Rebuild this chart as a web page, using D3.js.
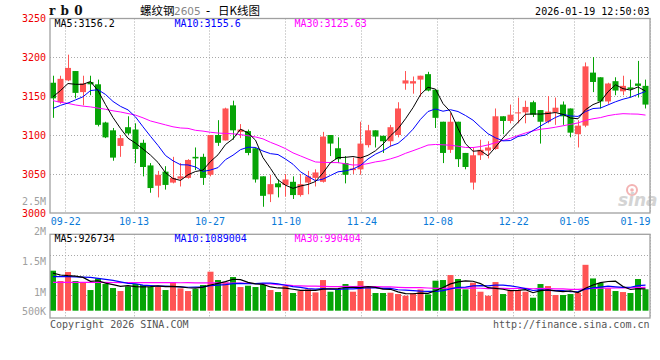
<!DOCTYPE html>
<html><head><meta charset="utf-8">
<script src="https://cdn.jsdelivr.net/npm/d3@7"></script>
<style>
html,body{margin:0;padding:0;background:#fff;}
svg{display:block;}
text{font-family:"DejaVu Sans Mono",monospace;font-size:10px;}
</style></head><body>
<svg id="c" width="660" height="360"></svg>
<script>
// ---------------- data ----------------
const dates = ["09-18","09-19","09-22","09-23","09-24","09-25","09-26","09-29","09-30","10-09",
"10-10","10-13","10-14","10-15","10-16","10-17","10-20","10-21","10-22","10-23",
"10-24","10-27","10-28","10-29","10-30","10-31","11-03","11-04","11-05","11-06",
"11-07","11-10","11-11","11-12","11-13","11-14","11-17","11-18","11-19","11-20",
"11-21","11-24","11-25","11-26","11-27","11-28","12-01","12-02","12-03","12-04",
"12-05","12-08","12-09","12-10","12-11","12-12","12-15","12-16","12-17","12-18",
"12-19","12-22","12-23","12-24","12-25","12-26","12-29","12-30","12-31","01-05",
"01-06","01-07","01-08","01-09","01-12","01-13","01-14","01-15","01-16","01-19"];
const open  = [3167,3142,3170,3182,3155,3168,3165,3116,3106,3086,
3110,3107,3090,3061,3035,3053,3039,3044,3045,3072,
3072,3049,3100,3093,3138,3104,3105,3083,3047,3024,
3038,3036,3040,3023,3039,3045,3040,3100,3083,3064,
3055,3056,3087,3106,3099,3092,3100,3166,3166,3171,
3178,3158,3117,3081,3117,3077,3039,3074,3080,3082,
3124,3118,3128,3129,3142,3132,3117,3129,3139,3134,
3101,3112,3180,3174,3143,3169,3156,3161,3166,3163];
const high  = [3176,3176,3203,3182,3176,3176,3171,3117,3109,3100,
3124,3115,3094,3064,3054,3060,3072,3064,3069,3084,
3076,3100,3119,3135,3144,3114,3107,3084,3047,3049,
3043,3050,3047,3050,3054,3056,3104,3100,3097,3073,
3071,3117,3113,3106,3099,3113,3142,3182,3175,3176,
3181,3158,3117,3128,3117,3077,3084,3094,3092,3134,
3124,3139,3148,3144,3144,3132,3150,3148,3143,3134,
3119,3193,3200,3174,3167,3174,3176,3171,3195,3171];
const low   = [3122,3140,3169,3147,3138,3151,3111,3096,3067,3072,
3100,3064,3047,3026,3020,3030,3038,3034,3044,3055,
3036,3047,3086,3093,3094,3096,3074,3039,3008,3014,
3020,3021,3018,3021,3024,3034,3039,3073,3064,3038,
3050,3049,3084,3084,3077,3085,3097,3158,3153,3149,
3156,3109,3064,3077,3059,3056,3030,3068,3070,3081,
3101,3115,3115,3115,3123,3089,3115,3113,3113,3097,
3084,3110,3155,3134,3140,3151,3151,3148,3148,3134];
const close = [3147,3172,3186,3154,3166,3165,3113,3097,3071,3096,
3102,3082,3059,3032,3049,3036,3045,3047,3068,3070,
3045,3100,3090,3134,3106,3107,3077,3043,3022,3037,
3033,3043,3023,3037,3047,3052,3098,3089,3069,3049,
3057,3089,3106,3098,3092,3110,3134,3170,3169,3176,
3157,3122,3077,3117,3069,3059,3074,3081,3084,3124,
3118,3126,3129,3136,3126,3117,3130,3135,3124,3103,
3112,3188,3168,3143,3166,3157,3163,3159,3163,3139];
const volume = [1700,1261,1643,1261,1204,878,1374,1133,963,836,
1034,1133,1091,1006,1006,878,1204,949,836,921,
1091,1657,1303,1204,1431,1006,1062,1006,1091,878,
793,1048,751,836,907,779,1303,807,907,1133,
807,1261,1020,751,751,765,708,637,737,907,
694,1275,1303,1516,1346,907,1190,807,637,1218,
708,878,878,807,552,1133,1048,666,666,708,
765,1950,1370,1176,949,836,793,751,1346,910].map(v => v * 1000);

// moving-average values before enough bars are on screen
const ma5Head  = [3149,3157,3166,3165];
const ma10Head = [3134,3138,3141,3145,3149,3157,3158,3152,3143];
const ma30Head = [3144,3142,3140.5,3138.5,3137,3136,3134.5,3133,3131,3129.5,
3127.5,3125.5,3122,3118,3115.5,3113,3110.5,3109,3108.5,3106,
3105,3103.5,3102.5,3102,3101.5,3100.5,3099,3097.5,3095];
const vma5Head  = [1600000,1516000,1487000,1473000];
const vma10Head = [1445000,1445000,1445000,1440000,1430000,1416000,1374000,1331000,1289000];
const vma30Head = [1205,1206,1204,1205,1203,1200,1202,1200,1198,1197,
1199,1196,1195,1194,1196,1193,1190,1188,1189,1186,
1183,1185,1180,1178,1175,1170,1163,1155,1145].map(v => v * 1000);

const priceTicks = [3000,3050,3100,3150,3200,3250];
const priceGrid  = [3050,3100,3150,3200];
const dateTicks  = ["09-22","10-13","10-27","11-10","11-24","12-08","12-22","01-05","01-19"];
const volTicks      = [500000,1000000,1500000,2000000,2500000];
const volTickLabels = ["500K","1M","1.5M","2M","2.5M"];
const maNames   = ["MA5","MA10","MA30"];
const priceLegendValues = ["3156.2","3155.6","3125.63"];
const volLegendValues   = ["926734","1089004","990404"];

// ---------------- drawing ----------------
const RED = "#ff5454", GREEN = "#06a406", GRID = "#a8a8a8", FRAME = "#a0a0a0";
const maColors = ["#000000", "#0000ff", "#ff00ff"];
const L = 50, R = 650, T = 18.5, B = 213, VT = 234.3, VB = 318;

const svg = d3.select("#c");
const xb = d3.scaleBand().domain(dates).range([L, R]).paddingInner(0.2).paddingOuter(0.1).align(0);
const xp = d3.scalePoint().domain(dates).range([L, R]);
const y  = d3.scaleLinear().domain([3000, 3250]).range([B, 18]);
const yv = d3.scaleLinear().domain([0, 1000000]).range([310.7, 310.7 - 23.53]);
const yLab = d3.scaleLinear().domain([500000, 1000000, 2500000]).range([311.1, 291.8, 201.1]);
const vGrid = d3.scaleLinear().domain([0, 4]).range([235.5, 314.8]);
const cx = d => xb(d) + xb.bandwidth() / 2;

function ma(arr, n, head) {
  return arr.map((v, i) => i < n - 1 ? head[i] : d3.mean(arr.slice(i - n + 1, i + 1)));
}
const pMA = [ma(close, 5, ma5Head), ma(close, 10, ma10Head), ma(close, 30, ma30Head)];
const vMA = [ma(volume, 5, vma5Head), ma(volume, 10, vma10Head), ma(volume, 30, vma30Head)];

// grids
const g = svg.append("g").attr("stroke", GRID).attr("stroke-dasharray", "1,2").attr("stroke-width", 1);
g.selectAll(".hg").data(priceGrid).join("line").attr("class", "hg")
  .attr("x1", L).attr("x2", R).attr("y1", d => Math.round(y(d)) + 0.5).attr("y2", d => Math.round(y(d)) + 0.5);
g.selectAll(".vgh").data([1, 2, 3]).join("line").attr("class", "vgh")
  .attr("x1", L).attr("x2", R).attr("y1", d => Math.round(vGrid(d)) + 0.5).attr("y2", d => Math.round(vGrid(d)) + 0.5);
g.selectAll(".dg").data(dateTicks).join("line").attr("class", "dg")
  .attr("x1", d => Math.round(xp(d)) + 0.5).attr("x2", d => Math.round(xp(d)) + 0.5).attr("y1", T).attr("y2", B);
g.selectAll(".dg2").data(dateTicks).join("line").attr("class", "dg2")
  .attr("x1", d => Math.round(xp(d)) + 0.5).attr("x2", d => Math.round(xp(d)) + 0.5).attr("y1", VT).attr("y2", VB);

// candles
const idx = d3.range(dates.length);
const col = i => close[i] >= open[i] ? RED : GREEN;
const cg = svg.append("g");
cg.selectAll(".wick").data(idx).join("line").attr("class", "wick")
  .attr("x1", i => Math.floor(cx(dates[i])) + 0.5).attr("x2", i => Math.floor(cx(dates[i])) + 0.5)
  .attr("y1", i => y(high[i])).attr("y2", i => y(low[i]))
  .attr("stroke", col).attr("stroke-width", 1);
cg.selectAll(".body").data(idx).join("rect").attr("class", "body")
  .attr("x", i => xb(dates[i])).attr("width", xb.bandwidth())
  .attr("y", i => y(Math.max(open[i], close[i])))
  .attr("height", i => Math.max(1, Math.abs(y(open[i]) - y(close[i]))))
  .attr("fill", col);

// volume bars
svg.append("g").selectAll("rect").data(idx).join("rect")
  .attr("x", i => xb(dates[i])).attr("width", xb.bandwidth())
  .attr("y", i => yv(volume[i])).attr("height", i => yv(0) - yv(volume[i]))
  .attr("fill", col);

// MA lines
const lineP = d3.line().x((v, i) => cx(dates[i])).y(v => y(v));
const lineV = d3.line().x((v, i) => cx(dates[i])).y(v => yv(v));
[2, 1, 0].forEach(k => {
  svg.append("path").attr("d", lineP(pMA[k])).attr("fill", "none").attr("stroke", maColors[k]).attr("stroke-width", 1);
  svg.append("path").attr("d", lineV(vMA[k])).attr("fill", "none").attr("stroke", maColors[k]).attr("stroke-width", 1.2);
});

// watermark
const wm = svg.append("g");
wm.append("circle").attr("cx", 632).attr("cy", 190).attr("r", 5).attr("fill", "none").attr("stroke", "#f3b3b3").attr("stroke-width", 2);
wm.append("circle").attr("cx", 632).attr("cy", 190).attr("r", 1.8).attr("fill", "#f3b3b3");
wm.append("text").attr("x", 618).attr("y", 206).text("sina")
  .style("font-family", "DejaVu Sans").style("font-size", "17px").style("font-weight", "bold").style("font-style", "italic")
  .attr("fill", "#d4d4d4");

// frames
svg.append("rect").attr("x", L).attr("y", T).attr("width", R - L).attr("height", B - T)
  .attr("fill", "none").attr("stroke", FRAME).attr("stroke-width", 1.3);
svg.append("rect").attr("x", L).attr("y", VT).attr("width", R - L).attr("height", VB - VT)
  .attr("fill", "none").attr("stroke", FRAME).attr("stroke-width", 1.3);

// axes
const volAx = svg.append("g").attr("transform", `translate(${L},0)`)
  .call(d3.axisLeft(yLab).tickValues(volTicks).tickSize(0).tickPadding(4)
    .tickFormat((d, i) => volTickLabels[i]));
volAx.select(".domain").remove();
volAx.selectAll("text").attr("fill", "#a0a0a0").style("font-family", "DejaVu Sans Mono").style("font-size", "10px");

const pAx = svg.append("g").attr("transform", `translate(${L},0)`)
  .call(d3.axisLeft(y).tickValues(priceTicks).tickSize(0).tickPadding(4).tickFormat(d3.format("d")));
pAx.select(".domain").remove();
pAx.selectAll("text").attr("fill", "#ee0000").style("font-family", "DejaVu Sans Mono").style("font-size", "10px");

const dAx = svg.append("g").attr("transform", `translate(0,${B})`)
  .call(d3.axisBottom(xp).tickValues(dateTicks).tickSize(0).tickPadding(5));
dAx.select(".domain").remove();
dAx.selectAll("text").attr("fill", "#0a7ad8").style("font-family", "DejaVu Sans Mono").style("font-size", "10px")
  .attr("text-anchor", (d, i) => i === dateTicks.length - 1 ? "end" : "middle");

// legends
maNames.forEach((n, k) => {
  svg.append("text").attr("x", L + 4.5 + k * 120).attr("y", 27.3).attr("fill", maColors[k])
    .text(n + ":" + priceLegendValues[k]);
  svg.append("text").attr("x", L + 4.5 + k * 120).attr("y", 242).attr("fill", maColors[k])
    .text(n + ":" + volLegendValues[k]);
});

// header
svg.append("text").attr("x", 49).attr("y", 15).text("rb0")
  .style("font-family", "DejaVu Serif").style("font-weight", "bold").style("font-size", "12px")
  .style("letter-spacing", "5.3px").attr("fill", "#111");
const title = svg.append("text").attr("y", 14.5).style("font-size", "11.5px");
title.append("tspan").attr("x", 140).text("螺纹钢").style("font-family", "Noto Sans CJK SC").attr("fill", "#000");
title.append("tspan").attr("x", 174).text("2605").style("font-family", "DejaVu Sans").style("font-size", "10.5px").attr("fill", "#888");
title.append("tspan").attr("x", 206).text("-").style("font-family", "DejaVu Sans").attr("fill", "#000");
title.append("tspan").attr("x", 218).text("日K线图").style("font-family", "Noto Sans CJK SC").attr("fill", "#000");
svg.append("text").attr("x", 649.5).attr("y", 15).attr("text-anchor", "end").attr("fill", "#000")
  .text("2026-01-19 12:50:03");

// footer
svg.append("text").attr("x", L).attr("y", 327.5).attr("fill", "#555").text("Copyright 2026 SINA.COM");
svg.append("text").attr("x", 649.5).attr("y", 327.5).attr("text-anchor", "end").attr("fill", "#555")
  .text("http://finance.sina.com.cn");
</script>
</body></html>
